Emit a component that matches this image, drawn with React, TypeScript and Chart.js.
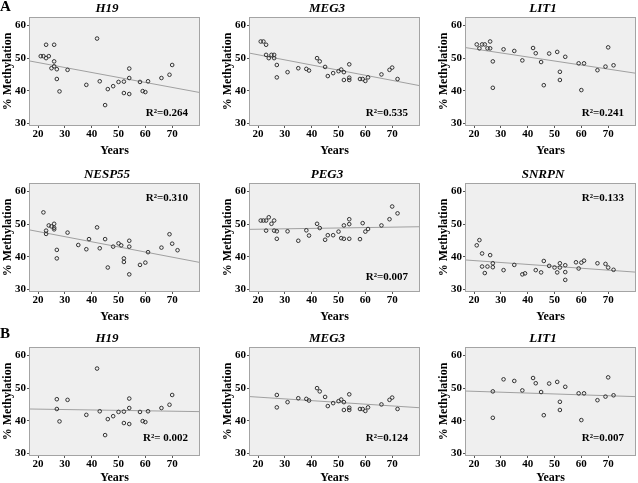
import React, { useEffect, useRef } from "react";
import { Chart, registerables } from "chart.js";

Chart.register(...registerables);

const FONT = "'Liberation Serif', 'Times New Roman', serif";

// ---- axes ----
const xTicks = [20, 30, 40, 50, 60, 70];
const yTicks = [30, 40, 50, 60];
const xRange = [17, 80];
const yRange = [29.5, 62.3];

// ---- A: H19 ----
const h19AgesA = [21, 22, 23, 23, 24, 25, 26, 26, 26, 27, 27, 28, 31, 38, 42, 43, 45, 46, 48, 50, 52, 52, 54, 54, 54, 58, 59, 60, 61, 66, 69, 70];
const h19MethA = [50.6, 50.6, 50.0, 54.1, 50.6, 46.9, 54.1, 49.0, 47.5, 46.6, 43.6, 39.8, 46.4, 41.8, 56.0, 42.9, 35.6, 40.5, 41.4, 42.7, 42.8, 39.3, 46.8, 43.9, 39.0, 42.7, 39.9, 39.6, 42.9, 43.9, 44.9, 47.9];
const h19FitA = [49.1, 39.5];

// ---- A: MEG3 ----
const meg3AgesA = [21, 22, 23, 23, 24, 25, 26, 26, 27, 27, 31, 35, 38, 39, 42, 43, 45, 46, 48, 50, 51, 52, 52, 54, 54, 54, 58, 59, 60, 61, 66, 69, 70, 72];
const meg3MethA = [55.1, 55.1, 54.1, 51.0, 50.0, 51.0, 51.0, 50.0, 47.9, 44.1, 45.7, 46.9, 46.7, 46.2, 50.0, 49.0, 47.3, 44.5, 45.4, 46.0, 46.5, 45.7, 43.3, 48.1, 44.0, 43.3, 43.6, 43.6, 43.0, 44.1, 45.0, 46.4, 47.1, 43.6];
const meg3FitA = [51.5, 41.6];

// ---- A: LIT1 ----
const lit1AgesA = [21, 22, 23, 24, 25, 26, 26, 27, 27, 31, 35, 38, 42, 43, 45, 46, 48, 51, 52, 52, 54, 59, 60, 61, 66, 69, 70, 72];
const lit1MethA = [54.2, 53.0, 54.2, 54.2, 53.0, 55.1, 53.0, 49.0, 40.9, 52.7, 52.2, 49.3, 53.1, 51.5, 48.8, 41.7, 51.4, 51.9, 45.8, 43.3, 50.4, 48.4, 40.2, 48.4, 46.3, 47.4, 53.3, 47.8];
const lit1FitA = [53.2, 45.4];

// ---- A: NESP55 ----
const nespAges = [22, 23, 23, 24, 25, 26, 26, 26, 27, 27, 31, 35, 38, 39, 42, 43, 45, 46, 48, 50, 51, 52, 52, 54, 54, 54, 58, 60, 61, 66, 69, 70, 72];
const nespMeth = [53.6, 48.0, 47.0, 49.6, 49.3, 50.1, 48.9, 48.4, 42.1, 39.5, 47.4, 43.6, 42.3, 45.4, 49.0, 42.6, 45.4, 36.7, 43.1, 44.1, 43.5, 39.5, 38.4, 44.9, 43.1, 34.6, 37.5, 38.2, 41.4, 42.8, 46.9, 44.0, 42.0];
const nespFit = [48.2, 38.3];

// ---- A: PEG3 ----
const peg3Ages = [21, 22, 23, 23, 24, 25, 26, 26, 27, 27, 31, 35, 38, 39, 42, 43, 45, 46, 48, 50, 51, 52, 52, 54, 54, 54, 58, 59, 60, 61, 66, 69, 70, 72];
const peg3Meth = [51.1, 51.1, 51.1, 48.0, 52.1, 50.1, 51.1, 48.0, 47.8, 45.5, 47.8, 44.9, 48.1, 46.5, 50.1, 48.8, 45.2, 46.6, 46.6, 47.7, 45.7, 45.5, 49.6, 50.0, 51.5, 45.5, 45.4, 50.3, 47.7, 48.5, 49.6, 51.5, 55.4, 53.3];
const peg3Fit = [48.4, 49.2];

// ---- A: SNRPN ----
const snrpnAges = [21, 22, 23, 23, 24, 25, 26, 27, 27, 31, 35, 38, 39, 43, 45, 46, 48, 50, 51, 52, 52, 54, 54, 54, 58, 59, 60, 61, 66, 69, 70, 72];
const snrpnMeth = [43.5, 45.1, 41.0, 37.0, 35.0, 37.0, 40.5, 38.0, 36.8, 35.9, 37.5, 34.6, 34.9, 35.9, 35.2, 38.7, 37.2, 36.7, 35.2, 38.0, 36.7, 37.4, 35.3, 32.9, 38.3, 36.4, 38.2, 38.8, 38.0, 37.8, 36.7, 36.0];
const snrpnFit = [39.0, 35.3];

// ---- B: H19 ----
const h19AgesB = [27, 27, 28, 31, 38, 42, 43, 45, 46, 48, 50, 52, 52, 54, 54, 54, 58, 59, 60, 61, 66, 69, 70];
const h19MethB = [46.6, 43.6, 39.8, 46.4, 41.8, 56.0, 42.9, 35.6, 40.5, 41.4, 42.7, 42.8, 39.3, 46.8, 43.9, 39.0, 42.7, 39.9, 39.6, 42.9, 43.9, 44.9, 47.9];
const h19FitB = [43.6, 42.8];

// ---- B: MEG3 ----
const meg3AgesB = [27, 27, 31, 35, 38, 39, 42, 43, 45, 46, 48, 50, 51, 52, 52, 54, 54, 54, 58, 59, 60, 61, 66, 69, 70, 72];
const meg3MethB = [47.9, 44.1, 45.7, 46.9, 46.7, 46.2, 50.0, 49.0, 47.3, 44.5, 45.4, 46.0, 46.5, 45.7, 43.3, 48.1, 44.0, 43.3, 43.6, 43.6, 43.0, 44.1, 45.0, 46.4, 47.1, 43.6];
const meg3FitB = [47.4, 44.0];

// ---- B: LIT1 ----
const lit1AgesB = [27, 27, 31, 35, 38, 42, 43, 45, 46, 48, 51, 52, 52, 54, 59, 60, 61, 66, 69, 70, 72];
const lit1MethB = [49.0, 40.9, 52.7, 52.2, 49.3, 53.1, 51.5, 48.8, 41.7, 51.4, 51.9, 45.8, 43.3, 50.4, 48.4, 40.2, 48.4, 46.3, 47.4, 53.3, 47.8];
const lit1FitB = [49.1, 47.4];

const titles = ["H19", "MEG3", "LIT1", "NESP55", "PEG3", "SNRPN", "H19", "MEG3", "LIT1"];
const r2Labels = ["R²=0.264", "R²=0.535", "R²=0.241", "R²=0.310", "R²=0.007", "R²=0.133", "R²= 0.002", "R²=0.124", "R²=0.007"];

// layout (pixels)
const colX = [30, 250, 466];
const rowY = [18, 184, 348];
const PLOT_W = 169;
const PLOT_H = 107;
const Y_AXIS_W = 30;
const RIGHT_W = 15;
const TITLE_H = 18;
const xAxisH = [33, 33, 30];

type PanelDef = {
  title: string;
  ages: number[];
  meth: number[];
  fit: number[];
  r2: string;
  col: number;
  row: number;
  r2Top: boolean;
  r2Off: number;
};

const panels: PanelDef[] = [
  { title: titles[0], ages: h19AgesA, meth: h19MethA, fit: h19FitA, r2: r2Labels[0], col: 0, row: 0, r2Top: false, r2Off: 12 },
  { title: titles[1], ages: meg3AgesA, meth: meg3MethA, fit: meg3FitA, r2: r2Labels[1], col: 1, row: 0, r2Top: false, r2Off: 12 },
  { title: titles[2], ages: lit1AgesA, meth: lit1MethA, fit: lit1FitA, r2: r2Labels[2], col: 2, row: 0, r2Top: false, r2Off: 12 },
  { title: titles[3], ages: nespAges, meth: nespMeth, fit: nespFit, r2: r2Labels[3], col: 0, row: 1, r2Top: true, r2Off: 14 },
  { title: titles[4], ages: peg3Ages, meth: peg3Meth, fit: peg3Fit, r2: r2Labels[4], col: 1, row: 1, r2Top: false, r2Off: 14 },
  { title: titles[5], ages: snrpnAges, meth: snrpnMeth, fit: snrpnFit, r2: r2Labels[5], col: 2, row: 1, r2Top: true, r2Off: 14 },
  { title: titles[6], ages: h19AgesB, meth: h19MethB, fit: h19FitB, r2: r2Labels[6], col: 0, row: 2, r2Top: false, r2Off: 17 },
  { title: titles[7], ages: meg3AgesB, meth: meg3MethB, fit: meg3FitB, r2: r2Labels[7], col: 1, row: 2, r2Top: false, r2Off: 17 },
  { title: titles[8], ages: lit1AgesB, meth: lit1MethB, fit: lit1FitB, r2: r2Labels[8], col: 2, row: 2, r2Top: false, r2Off: 17 },
];

const decorPlugin = {
  id: "panelDecor",
  beforeDraw(chart: any) {
    const { ctx, chartArea: a } = chart;
    ctx.save();
    ctx.fillStyle = "#efefef";
    ctx.fillRect(a.left, a.top, a.right - a.left, a.bottom - a.top);
    ctx.restore();
  },
  beforeDatasetsDraw(chart: any) {
    const { ctx, chartArea: a } = chart;
    ctx.save();
    ctx.strokeStyle = "#a4a4a4";
    ctx.lineWidth = 1;
    ctx.strokeRect(a.left - 0.5, a.top - 0.5, a.right - a.left + 1, a.bottom - a.top + 1);
    ctx.restore();
  },
  afterDatasetsDraw(chart: any, _args: any, opts: any) {
    const { ctx, chartArea: a } = chart;
    ctx.save();
    ctx.font = `bold 11px ${FONT}`;
    ctx.fillStyle = "#000";
    ctx.textAlign = "right";
    ctx.textBaseline = "middle";
    const y = opts.top ? a.top + opts.off : a.bottom - opts.off;
    ctx.fillText(opts.text, a.right - 11, y);
    ctx.restore();
  },
};

function PanelChart({ p }: { p: PanelDef }) {
  const ref = useRef<HTMLCanvasElement>(null);
  const w = Y_AXIS_W + PLOT_W + RIGHT_W;
  const h = TITLE_H + PLOT_H + xAxisH[p.row];
  const left = colX[p.col] - Y_AXIS_W;
  const top = rowY[p.row] - TITLE_H;

  useEffect(() => {
    const canvas = ref.current!;
    const tickFont = { family: FONT, size: 11, weight: "bold" as const };
    const chart = new Chart(canvas, {
      type: "scatter",
      data: {
        datasets: [
          {
            type: "scatter",
            data: p.ages.map((a, i) => ({ x: a, y: p.meth[i] })),
            pointRadius: 1.8,
            pointBorderWidth: 1,
            pointBorderColor: "#333",
            pointBackgroundColor: "rgba(0,0,0,0)",
            order: 1,
          } as any,
          {
            type: "line",
            data: [
              { x: xRange[0], y: p.fit[0] },
              { x: xRange[1], y: p.fit[1] },
            ],
            borderColor: "#a0a0a0",
            borderWidth: 1,
            pointRadius: 0,
            fill: false,
            order: 2,
          } as any,
        ],
      },
      options: {
        animation: false,
        responsive: false,
        events: [],
        layout: { padding: 0 },
        plugins: {
          legend: { display: false },
          tooltip: { enabled: false },
          title: {
            display: true,
            text: p.title,
            color: "#000",
            font: { family: FONT, size: 13, weight: "bold", style: "italic" },
            padding: { top: 0.5, bottom: 1.9 },
          },
          panelDecor: { text: p.r2, top: p.r2Top, off: p.r2Off },
        } as any,
        scales: {
          x: {
            type: "linear",
            min: xRange[0],
            max: xRange[1],
            afterBuildTicks: (s: any) => {
              s.ticks = xTicks.map((v) => ({ value: v }));
            },
            afterFit: (s: any) => {
              s.height = xAxisH[p.row];
            },
            grid: { drawOnChartArea: false, drawTicks: true, tickLength: 3, color: "#555" },
            border: { display: false },
            ticks: { font: tickFont, color: "#000", padding: 0, maxRotation: 0, autoSkip: false },
            title: {
              display: true,
              text: "Years",
              color: "#000",
              font: { family: FONT, size: 12, weight: "bold" },
              padding: 0,
            },
          },
          y: {
            type: "linear",
            position: "left",
            min: yRange[0],
            max: yRange[1],
            afterBuildTicks: (s: any) => {
              s.ticks = yTicks.map((v) => ({ value: v }));
            },
            afterFit: (s: any) => {
              s.width = Y_AXIS_W;
            },
            grid: { drawOnChartArea: false, drawTicks: true, tickLength: 3, color: "#555" },
            border: { display: false },
            ticks: { font: tickFont, color: "#000", padding: 1, autoSkip: false },
            title: {
              display: true,
              text: "% Methylation",
              color: "#000",
              font: { family: FONT, size: 12, weight: "bold" },
              padding: { top: 1, bottom: 0 },
            },
          },
          yr: {
            type: "linear",
            position: "right",
            display: true,
            afterFit: (s: any) => {
              s.width = RIGHT_W;
            },
            ticks: { display: false },
            grid: { display: false },
            border: { display: false },
          },
        } as any,
      },
      plugins: [decorPlugin as any],
    });
    return () => chart.destroy();
  }, []);

  return (
    <canvas
      ref={ref}
      width={w}
      height={h}
      style={{ position: "absolute", left, top, width: w, height: h }}
    />
  );
}

export default function App() {
  return (
    <div
      style={{
        position: "absolute",
        left: 0,
        top: 0,
        width: 638,
        height: 483,
        overflow: "hidden",
        background: "#fff",
      }}
    >
      {panels.map((p, i) => (
        <PanelChart key={i} p={p} />
      ))}
      <div style={{ position: "absolute", left: 0, top: -2, font: `bold 15px ${FONT}`, color: "#000" }}>A</div>
      <div style={{ position: "absolute", left: 0, top: 325, font: `bold 15px ${FONT}`, color: "#000" }}>B</div>
    </div>
  );
}
